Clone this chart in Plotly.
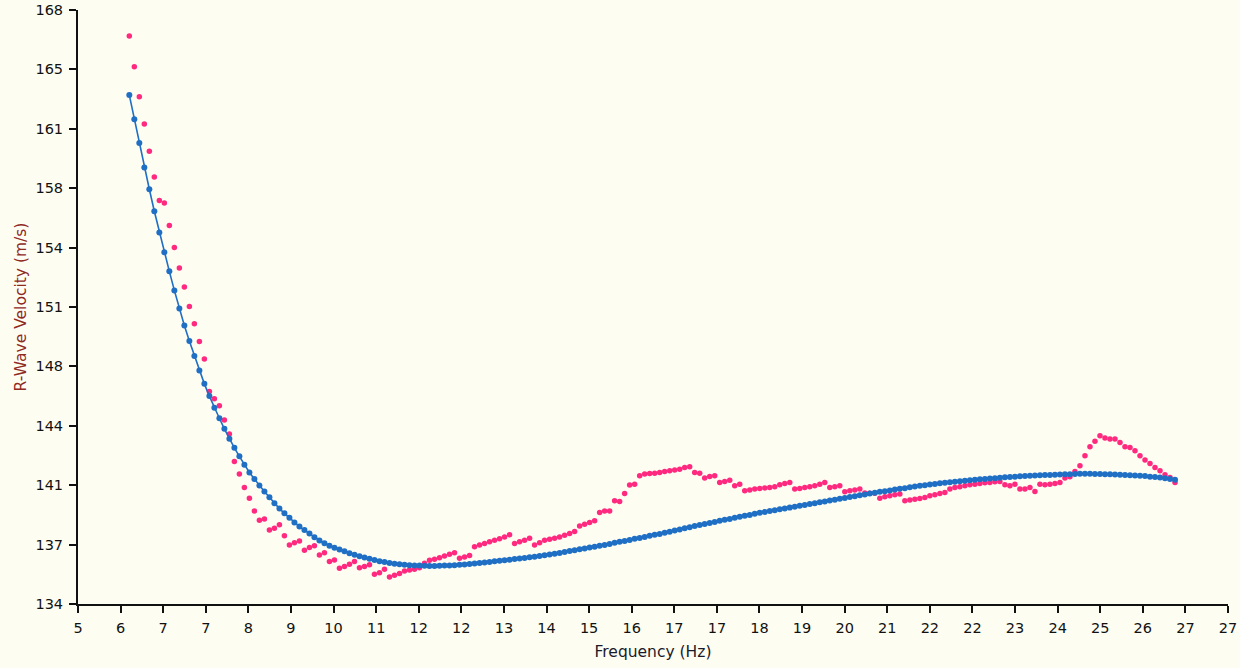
import plotly.graph_objects as go

# ---- data ----
FREQ_START = 6.0      # Hz, first spectral point
FREQ_STEP = 0.0975    # Hz between points

fitted_velocity = [
    163.13, 161.75, 160.39, 158.98, 157.74, 156.48, 155.27, 154.13, 153.04, 151.95,
    150.92, 149.94, 149.05, 148.19, 147.36, 146.60, 145.90, 145.24, 144.63, 144.03,
    143.46, 142.94, 142.45, 141.97, 141.53, 141.15, 140.78, 140.44, 140.11, 139.77,
    139.46, 139.19, 138.93, 138.67, 138.43, 138.23, 138.03, 137.82, 137.64, 137.48,
    137.34, 137.22, 137.12, 137.02, 136.91, 136.82, 136.74, 136.66, 136.59, 136.52,
    136.45, 136.40, 136.35, 136.31, 136.28, 136.25, 136.22, 136.21, 136.20, 136.19,
    136.18, 136.18, 136.19, 136.20, 136.21, 136.22, 136.24, 136.26, 136.29, 136.32,
    136.35, 136.38, 136.41, 136.44, 136.47, 136.50, 136.53, 136.57, 136.61, 136.64,
    136.68, 136.71, 136.75, 136.79, 136.84, 136.88, 136.92, 136.98, 137.03, 137.07,
    137.13, 137.18, 137.23, 137.27, 137.33, 137.38, 137.44, 137.50, 137.56, 137.61,
    137.67, 137.73, 137.78, 137.84, 137.90, 137.96, 138.01, 138.08, 138.14, 138.21,
    138.27, 138.33, 138.40, 138.46, 138.52, 138.58, 138.64, 138.70, 138.76, 138.82,
    138.87, 138.93, 138.99, 139.05, 139.10, 139.16, 139.22, 139.27, 139.32, 139.37,
    139.42, 139.47, 139.52, 139.57, 139.62, 139.67, 139.72, 139.77, 139.82, 139.87,
    139.92, 139.97, 140.02, 140.07, 140.12, 140.17, 140.22, 140.27, 140.32, 140.37,
    140.42, 140.46, 140.50, 140.55, 140.59, 140.63, 140.68, 140.73, 140.77, 140.80,
    140.84, 140.87, 140.91, 140.94, 140.97, 141.00, 141.02, 141.05, 141.08, 141.11,
    141.14, 141.16, 141.18, 141.20, 141.22, 141.25, 141.27, 141.29, 141.31, 141.32,
    141.34, 141.35, 141.37, 141.38, 141.39, 141.40, 141.41, 141.42, 141.43, 141.44,
    141.45, 141.45, 141.45, 141.44, 141.44, 141.43, 141.42, 141.41, 141.40, 141.39,
    141.37, 141.35, 141.34, 141.32, 141.29, 141.27, 141.24, 141.20, 141.16, 141.11,
]

measured_velocity = [
    166.51, 164.75, 163.03, 161.47, 159.92, 158.44, 157.09, 156.95, 155.67, 154.40,
    153.23, 152.14, 151.03, 150.04, 149.02, 148.03, 146.17, 145.75, 145.35, 144.53,
    143.73, 142.16, 141.44, 140.67, 140.06, 139.33, 138.80, 138.86, 138.23, 138.34,
    138.53, 137.90, 137.38, 137.51, 137.61, 137.08, 137.23, 137.33, 136.81, 136.94,
    136.43, 136.52, 136.05, 136.14, 136.28, 136.43, 136.08, 136.14, 136.24, 135.70,
    135.79, 135.99, 135.55, 135.65, 135.74, 135.89, 135.95, 135.99, 136.08, 136.33,
    136.51, 136.56, 136.65, 136.75, 136.85, 136.94, 136.62, 136.69, 136.77, 137.27,
    137.38, 137.46, 137.57, 137.65, 137.74, 137.84, 137.96, 137.46, 137.56, 137.65,
    137.77, 137.38, 137.51, 137.65, 137.71, 137.77, 137.84, 137.94, 138.03, 138.15,
    138.47, 138.57, 138.66, 138.76, 139.24, 139.33, 139.33, 139.91, 139.87, 140.32,
    140.81, 140.86, 141.34, 141.44, 141.47, 141.49, 141.53, 141.59, 141.63, 141.67,
    141.72, 141.82, 141.86, 141.53, 141.48, 141.21, 141.30, 141.34, 140.96, 141.01,
    141.09, 140.77, 140.86, 140.48, 140.52, 140.58, 140.61, 140.64, 140.67, 140.71,
    140.82, 140.90, 140.96, 140.58, 140.61, 140.67, 140.71, 140.77, 140.86, 140.96,
    140.67, 140.71, 140.77, 140.42, 140.48, 140.52, 140.58, 140.36, 140.34, 140.34,
    140.06, 140.14, 140.19, 140.25, 140.29, 139.91, 139.95, 140.00, 140.04, 140.10,
    140.19, 140.25, 140.32, 140.38, 140.58, 140.67, 140.71, 140.77, 140.82, 140.86,
    140.90, 140.94, 140.96, 141.00, 141.01, 140.82, 140.77, 140.86, 140.58, 140.58,
    140.67, 140.44, 140.86, 140.82, 140.86, 140.90, 140.96, 141.21, 141.28, 141.59,
    141.91, 142.49, 143.00, 143.31, 143.63, 143.50, 143.44, 143.44, 143.25, 143.00,
    142.96, 142.77, 142.49, 142.24, 142.04, 141.82, 141.63, 141.40, 141.24, 140.96,
]

# axis ticks: evenly spaced, labels rounded as in the original
X_MIN, X_TICK_STEP, X_TICK_COUNT = 5.0, 0.83, 28
x_tick_labels = ["5", "6", "7", "7", "8", "9", "10", "11", "12", "12", "13", "14",
                 "15", "16", "17", "17", "18", "19", "20", "21", "22", "22", "23",
                 "24", "25", "26", "27", "27"]
Y_MIN, Y_TICK_STEP, Y_TICK_COUNT = 134.0, 3.4, 11
y_tick_labels = ["134", "137", "141", "144", "148", "151", "154", "158", "161",
                 "165", "168"]

freq_fit = [FREQ_START + i * FREQ_STEP for i in range(len(fitted_velocity))]
freq_meas = [FREQ_START + i * FREQ_STEP for i in range(len(measured_velocity))]
x_tickvals = [X_MIN + k * X_TICK_STEP for k in range(X_TICK_COUNT)]
y_tickvals = [Y_MIN + k * Y_TICK_STEP for k in range(Y_TICK_COUNT)]

BG = "#FEFDF2"
FONT = "DejaVu Sans"

fig = go.Figure()
fig.add_trace(go.Scatter(
    x=freq_meas, y=measured_velocity, mode="markers",
    marker=dict(color="#FF2A7F", size=5.5, line=dict(width=0)),
    name="measured", hoverinfo="x+y"))
fig.add_trace(go.Scatter(
    x=freq_fit, y=fitted_velocity, mode="lines+markers",
    line=dict(color="#1F6FC5", width=1.6),
    marker=dict(color="#1F6FC5", size=6, line=dict(width=0)),
    name="fitted", hoverinfo="x+y"))

fig.update_layout(
    width=1240, height=668,
    margin=dict(l=78, r=12, t=10, b=64, autoexpand=False),
    paper_bgcolor=BG, plot_bgcolor=BG,
    showlegend=False,
    font=dict(family=FONT, size=14, color="#111111"),
    xaxis=dict(
        range=[X_MIN, X_MIN + (X_TICK_COUNT - 1) * X_TICK_STEP],
        tickmode="array", tickvals=x_tickvals, ticktext=x_tick_labels,
        showgrid=False, zeroline=False,
        showline=True, linecolor="#111111", linewidth=2,
        ticks="outside", ticklen=7, tickwidth=2, tickcolor="#111111",
        ticklabelstandoff=3,
        tickfont=dict(family=FONT, size=14.5, color="#111111"),
        title=dict(text="Frequency (Hz)", standoff=11,
                   font=dict(family=FONT, size=15.5, color="#1a1a2a")),
    ),
    yaxis=dict(
        range=[Y_MIN, Y_MIN + (Y_TICK_COUNT - 1) * Y_TICK_STEP],
        tickmode="array", tickvals=y_tickvals, ticktext=y_tick_labels,
        showgrid=False, zeroline=False,
        showline=True, linecolor="#111111", linewidth=2,
        ticks="outside", ticklen=7, tickwidth=2, tickcolor="#111111",
        ticklabelstandoff=3,
        tickfont=dict(family=FONT, size=14.5, color="#111111"),
        title=dict(text="R-Wave Velocity (m/s)", standoff=5,
                   font=dict(family=FONT, size=15.5, color="#8E2A1E")),
    ),
)

fig.write_html("out.html")
